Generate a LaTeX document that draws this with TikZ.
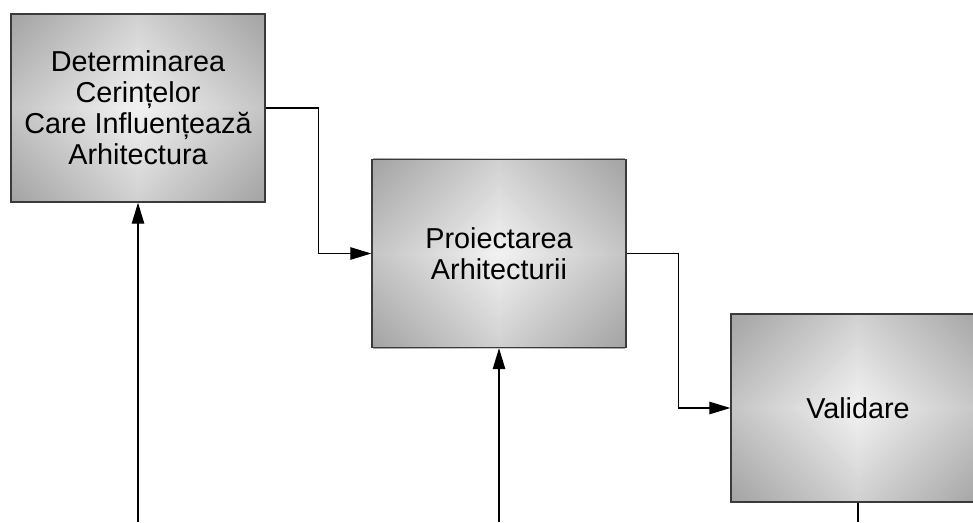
\documentclass[tikz,border=0pt]{standalone}
\usepackage{fontspec}
\setmainfont{Liberation Sans}
\usetikzlibrary{arrows.meta,calc}
\pgfdeclarelayer{bg}
\pgfsetlayers{bg,main}
\definecolor{borderc}{HTML}{3A3A3A}
\tikzset{
  boxnode/.style={draw=borderc, line width=1.4pt,
    minimum width=254pt, minimum height=188pt, inner sep=0pt,
    align=center, text=black,
    font=\fontsize{28.8pt}{30.9pt}\selectfont},
  conn/.style={draw=black, line width=1.1pt},
  arr/.style={conn, -{Triangle[length=21pt,width=12.5pt]}}
}
\begin{document}
\begin{tikzpicture}[x=1pt,y=-1pt]
\useasboundingbox (0,0) rectangle (973,522);
\clip (0,0) rectangle (973,522);
\coordinate (bottom) at (0,522);
\node[boxnode] (b1) at (138,108) {Determinarea\\Cerințelor\\Care Influențează\\Arhitectura};
\node[boxnode] (b2) at (499,253.5) {Proiectarea\\Arhitecturii};
\node[boxnode] (b3) at (858,408) {Validare};
\begin{pgfonlayer}{bg}
\foreach \n in {b1,b2,b3}{
  \begin{scope}
    \clip (\n.south west) rectangle (\n.north east);
    \foreach \i in {60,59,...,1}{
      \pgfmathsetmacro\r{221*\i/60}
      \pgfmathsetmacro\g{95-31*(\i-0.5)/60}
      \fill[white!\g!black, shift={(\n.center)}] (\r,0) -- (0,\r) -- (-\r,0) -- (0,-\r) -- cycle;
    }
  \end{scope}
}
\end{pgfonlayer}
\coordinate (m1) at ($(b1.east)!.5!(b2.west)$);
\coordinate (m2) at ($(b2.east)!.5!(b3.west)$);
\draw[arr] (b1.east) -| (m1) |- (b2.west);
\draw[arr] (b2.east) -| (m2) |- (b3.west);
\coordinate (in1) at (b1.south |- bottom);
\coordinate (in2) at (b2.south |- bottom);
\coordinate (out3) at (b3.south |- bottom);
\draw[arr] (in1) -- (b1.south);
\draw[arr] (in2) -- (b2.south);
\draw[conn] (b3.south) -- (out3);
\end{tikzpicture}
\end{document}
